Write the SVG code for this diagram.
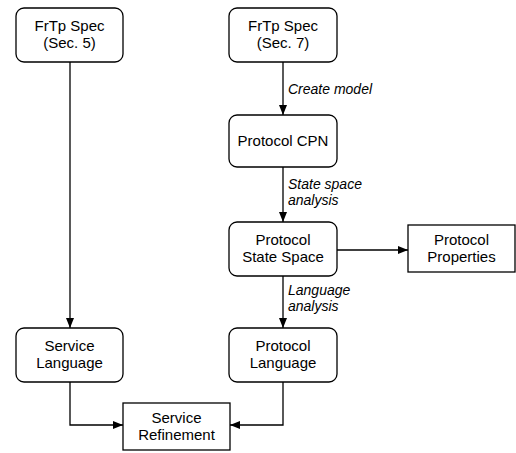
<svg xmlns="http://www.w3.org/2000/svg" width="516" height="453" viewBox="0 0 516 453">
  <style>
    .box { fill: #fff; stroke: #000; stroke-width: 1.3; }
    .lbl { font-family: "Liberation Sans", Arial, sans-serif; font-size: 15px; text-anchor: middle; fill: #000; }
    .edge { font-family: "Liberation Sans", Arial, sans-serif; font-size: 14px; font-style: italic; fill: #000; }
    .wire { fill: none; stroke: #000; stroke-width: 1.3; }
  </style>
  <defs>
    <marker id="arrow" viewBox="0 0 10 8" refX="10" refY="4" markerWidth="10" markerHeight="8" markerUnits="userSpaceOnUse" orient="auto">
      <path d="M0,0 L10,4 L0,8 Z" fill="#000"/>
    </marker>
  </defs>

  <rect width="516" height="453" fill="#fff"/>

  <g id="connectors">
    <path class="wire" d="M70,62 V328" marker-end="url(#arrow)"/>
    <path class="wire" d="M283,62 V115" marker-end="url(#arrow)"/>
    <path class="wire" d="M283,167 V222" marker-end="url(#arrow)"/>
    <path class="wire" d="M337,250 H408" marker-end="url(#arrow)"/>
    <path class="wire" d="M283,276 V328" marker-end="url(#arrow)"/>
    <path class="wire" d="M70,382 V425 H123" marker-end="url(#arrow)"/>
    <path class="wire" d="M283,382 V425 H230" marker-end="url(#arrow)"/>
    <text class="edge" x="288" y="94">Create model</text>
    <text class="edge" x="288" y="189">State space</text>
    <text class="edge" x="288" y="205">analysis</text>
    <text class="edge" x="288" y="295">Language</text>
    <text class="edge" x="288" y="311">analysis</text>
  </g>

  <g id="spec5">
    <rect class="box" x="16" y="8" width="107" height="54" rx="8"/>
    <text class="lbl" x="69.5" y="31">FrTp Spec</text>
    <text class="lbl" x="69.5" y="48">(Sec. 5)</text>
  </g>

  <g id="spec7">
    <rect class="box" x="229" y="8" width="108" height="54" rx="8"/>
    <text class="lbl" x="283" y="31">FrTp Spec</text>
    <text class="lbl" x="283" y="48">(Sec. 7)</text>
  </g>

  <g id="protocol-cpn">
    <rect class="box" x="229" y="115" width="108" height="52" rx="8"/>
    <text class="lbl" x="283" y="146">Protocol CPN</text>
  </g>

  <g id="protocol-state-space">
    <rect class="box" x="229" y="222" width="108" height="54" rx="8"/>
    <text class="lbl" x="283" y="245">Protocol</text>
    <text class="lbl" x="283" y="262">State Space</text>
  </g>

  <g id="protocol-properties">
    <rect class="box" x="408" y="225" width="107" height="47"/>
    <text class="lbl" x="461.5" y="245">Protocol</text>
    <text class="lbl" x="461.5" y="262">Properties</text>
  </g>

  <g id="service-language">
    <rect class="box" x="16" y="328" width="107" height="54" rx="8"/>
    <text class="lbl" x="69.5" y="351">Service</text>
    <text class="lbl" x="69.5" y="368">Language</text>
  </g>

  <g id="protocol-language">
    <rect class="box" x="229" y="328" width="108" height="54" rx="8"/>
    <text class="lbl" x="283" y="351">Protocol</text>
    <text class="lbl" x="283" y="368">Language</text>
  </g>

  <g id="service-refinement">
    <rect class="box" x="123" y="403" width="107" height="47"/>
    <text class="lbl" x="176.5" y="423">Service</text>
    <text class="lbl" x="176.5" y="440">Refinement</text>
  </g>
</svg>
